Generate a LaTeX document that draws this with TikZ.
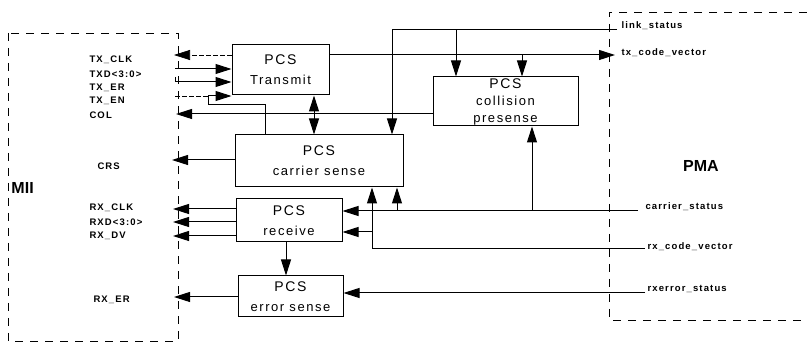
\documentclass[tikz,border=0pt]{standalone}
\usepackage{fontspec}
\setmainfont{Liberation Sans}
\newfontfamily\pcsfont[LetterSpace=12]{Liberation Sans}
\usetikzlibrary{positioning, arrows.meta, calc}

\begin{document}
\begin{tikzpicture}[x=1pt, y=-1pt, line width=1pt,
    block/.style={draw, align=center, inner sep=0pt, font=\pcsfont\fontsize{13}{20}\selectfont},
    sig/.style={font=\pcsfont\fontsize{9.5}{10}\selectfont\bfseries, inner sep=1pt, anchor=west},
    layer/.style={font=\fontsize{16}{18}\selectfont\bfseries, inner sep=0pt},
    arr/.style={-{Triangle[length=16pt,width=10pt]}},
    dbl/.style={{Triangle[length=16pt,width=10pt]}-{Triangle[length=16pt,width=10pt]}},
    faint/.style={line width=0.7pt, dash pattern=on 5pt off 2pt},
    bound/.style={line width=0.6pt, dash pattern=on 8pt off 7pt}]
    \useasboundingbox (0,0) rectangle (807,344);

    % Layer Boxes
    \draw[bound] (8,33) rectangle (178,341);
    \draw[bound] (807,12) -- (609,12) -- (609,320) -- (807,320);
    \node[layer, anchor=west] (mii) at (11,188) {MII};
    \node[layer] (pma) at (701,166) {PMA};

    % Node Placements
    \node[block, minimum width=97pt, minimum height=50pt] (tx) at (280.5,70)
        {{\fontsize{14}{20}\selectfont PCS}\\Transmit};
    \node[block, minimum width=168pt, minimum height=52pt] (cs) at (319,161)
        {{\fontsize{14}{20}\selectfont PCS}\\carrier sense};
    \node[block, minimum width=145pt, minimum height=49pt,
          font=\pcsfont\fontsize{13}{17}\selectfont] (col) at (505.5,101.5)
        {{\fontsize{14}{17}\selectfont PCS}\\collision\\presense};
    \node[block, minimum width=106pt, minimum height=43pt] (rx) at (289,220.5)
        {{\fontsize{14}{20}\selectfont PCS}\\receive};
    \node[block, minimum width=105pt, minimum height=41pt] (es) at (290.5,296.5)
        {{\fontsize{14}{20}\selectfont PCS}\\error sense};

    % MII Signals
    \node[sig] (lTxClk) at (88,60)  {TX\_CLK};
    \node[sig] (lTxd)   at (88,74)  {TXD<3:0>};
    \node[sig] (lTxEr)  at (88,88)  {TX\_ER};
    \node[sig] (lTxEn)  at (88,101) {TX\_EN};
    \node[sig] (lCol)   at (88,115) {COL};
    \node[sig] (lCrs)   at (96,166) {CRS};
    \node[sig] (lRxClk) at (88,208) {RX\_CLK};
    \node[sig] (lRxd)   at (88,222) {RXD<3:0>};
    \node[sig] (lRxDv)  at (88,236) {RX\_DV};
    \node[sig] (lRxEr)  at (92,300) {RX\_ER};

    % PMA Signals
    \node[sig] (lLink)   at (620,26)  {link\_status};
    \node[sig] (lTxCode) at (620,53)  {tx\_code\_vector};
    \node[sig] (lCarr)   at (644,207) {carrier\_status};
    \node[sig] (lRxCode) at (646,247) {rx\_code\_vector};
    \node[sig] (lRxErr)  at (646,289) {rxerror\_status};

    % Pin Coordinates
    \coordinate (pTxClk) at (174,55);
    \coordinate (pTxd)   at (175,69);
    \coordinate (pTxEr)  at (175,77);
    \coordinate (pTxEn)  at (175,96);
    \coordinate (jTxEn)  at (208,96);
    \coordinate (pCol)   at (176,114);
    \coordinate (pCrs)   at (172,160);
    \coordinate (pRxClk) at (173,209);
    \coordinate (pRxd)   at (173,222);
    \coordinate (pRxDv)  at (173,236);
    \coordinate (pRxEr)  at (174,297);
    \coordinate (pLink)   at (617,30);
    \coordinate (pTxCode) at (615,55);
    \coordinate (pCarr)   at (638,211);
    \coordinate (pRxCode) at (645,249);
    \coordinate (pRxErr)  at (645,293);

    % Transmit Side
    \draw[arr, faint] (tx.west |- pTxClk) -- (pTxClk);
    \draw[arr] (pTxd) -- (tx.west |- pTxd);
    \draw[arr] (pTxEr) |- (tx.west |- 0,82);
    \draw[faint] (pTxEn) -- (jTxEn);
    \draw[arr] (jTxEn) -- (tx.west |- pTxEn);
    \draw (jTxEn) |- (265,105) -- (cs.north -| 265,0);
    \draw[arr] (col.west |- pCol) -- (pCol);
    \draw[arr] (cs.west |- pCrs) -- (pCrs);
    \draw[dbl] (tx.south -| 314,0) -- (cs.north -| 314,0);
    \draw[arr] (tx.east |- pTxCode) -- (pTxCode);
    \draw[arr] (522,55) -- (col.north -| 522,0);
    \draw[arr] (pLink) -| (cs.north -| 392,0);
    \draw[arr] (456,30) -- (col.north -| 456,0);

    % Receive Side
    \draw[arr] (rx.west |- pRxClk) -- (pRxClk);
    \draw[arr] (rx.west |- pRxd) -- (pRxd);
    \draw[arr] (rx.west |- pRxDv) -- (pRxDv);
    \draw[arr] (rx.south -| 286,0) -- (es.north -| 286,0);
    \draw[arr] (es.west |- pRxEr) -- (pRxEr);
    \draw[arr] (pCarr) -- (rx.east |- pCarr);
    \draw[arr] (397,211) -- (cs.south -| 397,0);
    \draw[arr] (532,211) -- (col.south -| 532,0);
    \draw[arr] (pRxCode) -| (cs.south -| 372,0);
    \draw[arr] (372,232) -- (rx.east |- 0,232);
    \draw[arr] (pRxErr) -- (es.east |- pRxErr);
\end{tikzpicture}
\end{document}
